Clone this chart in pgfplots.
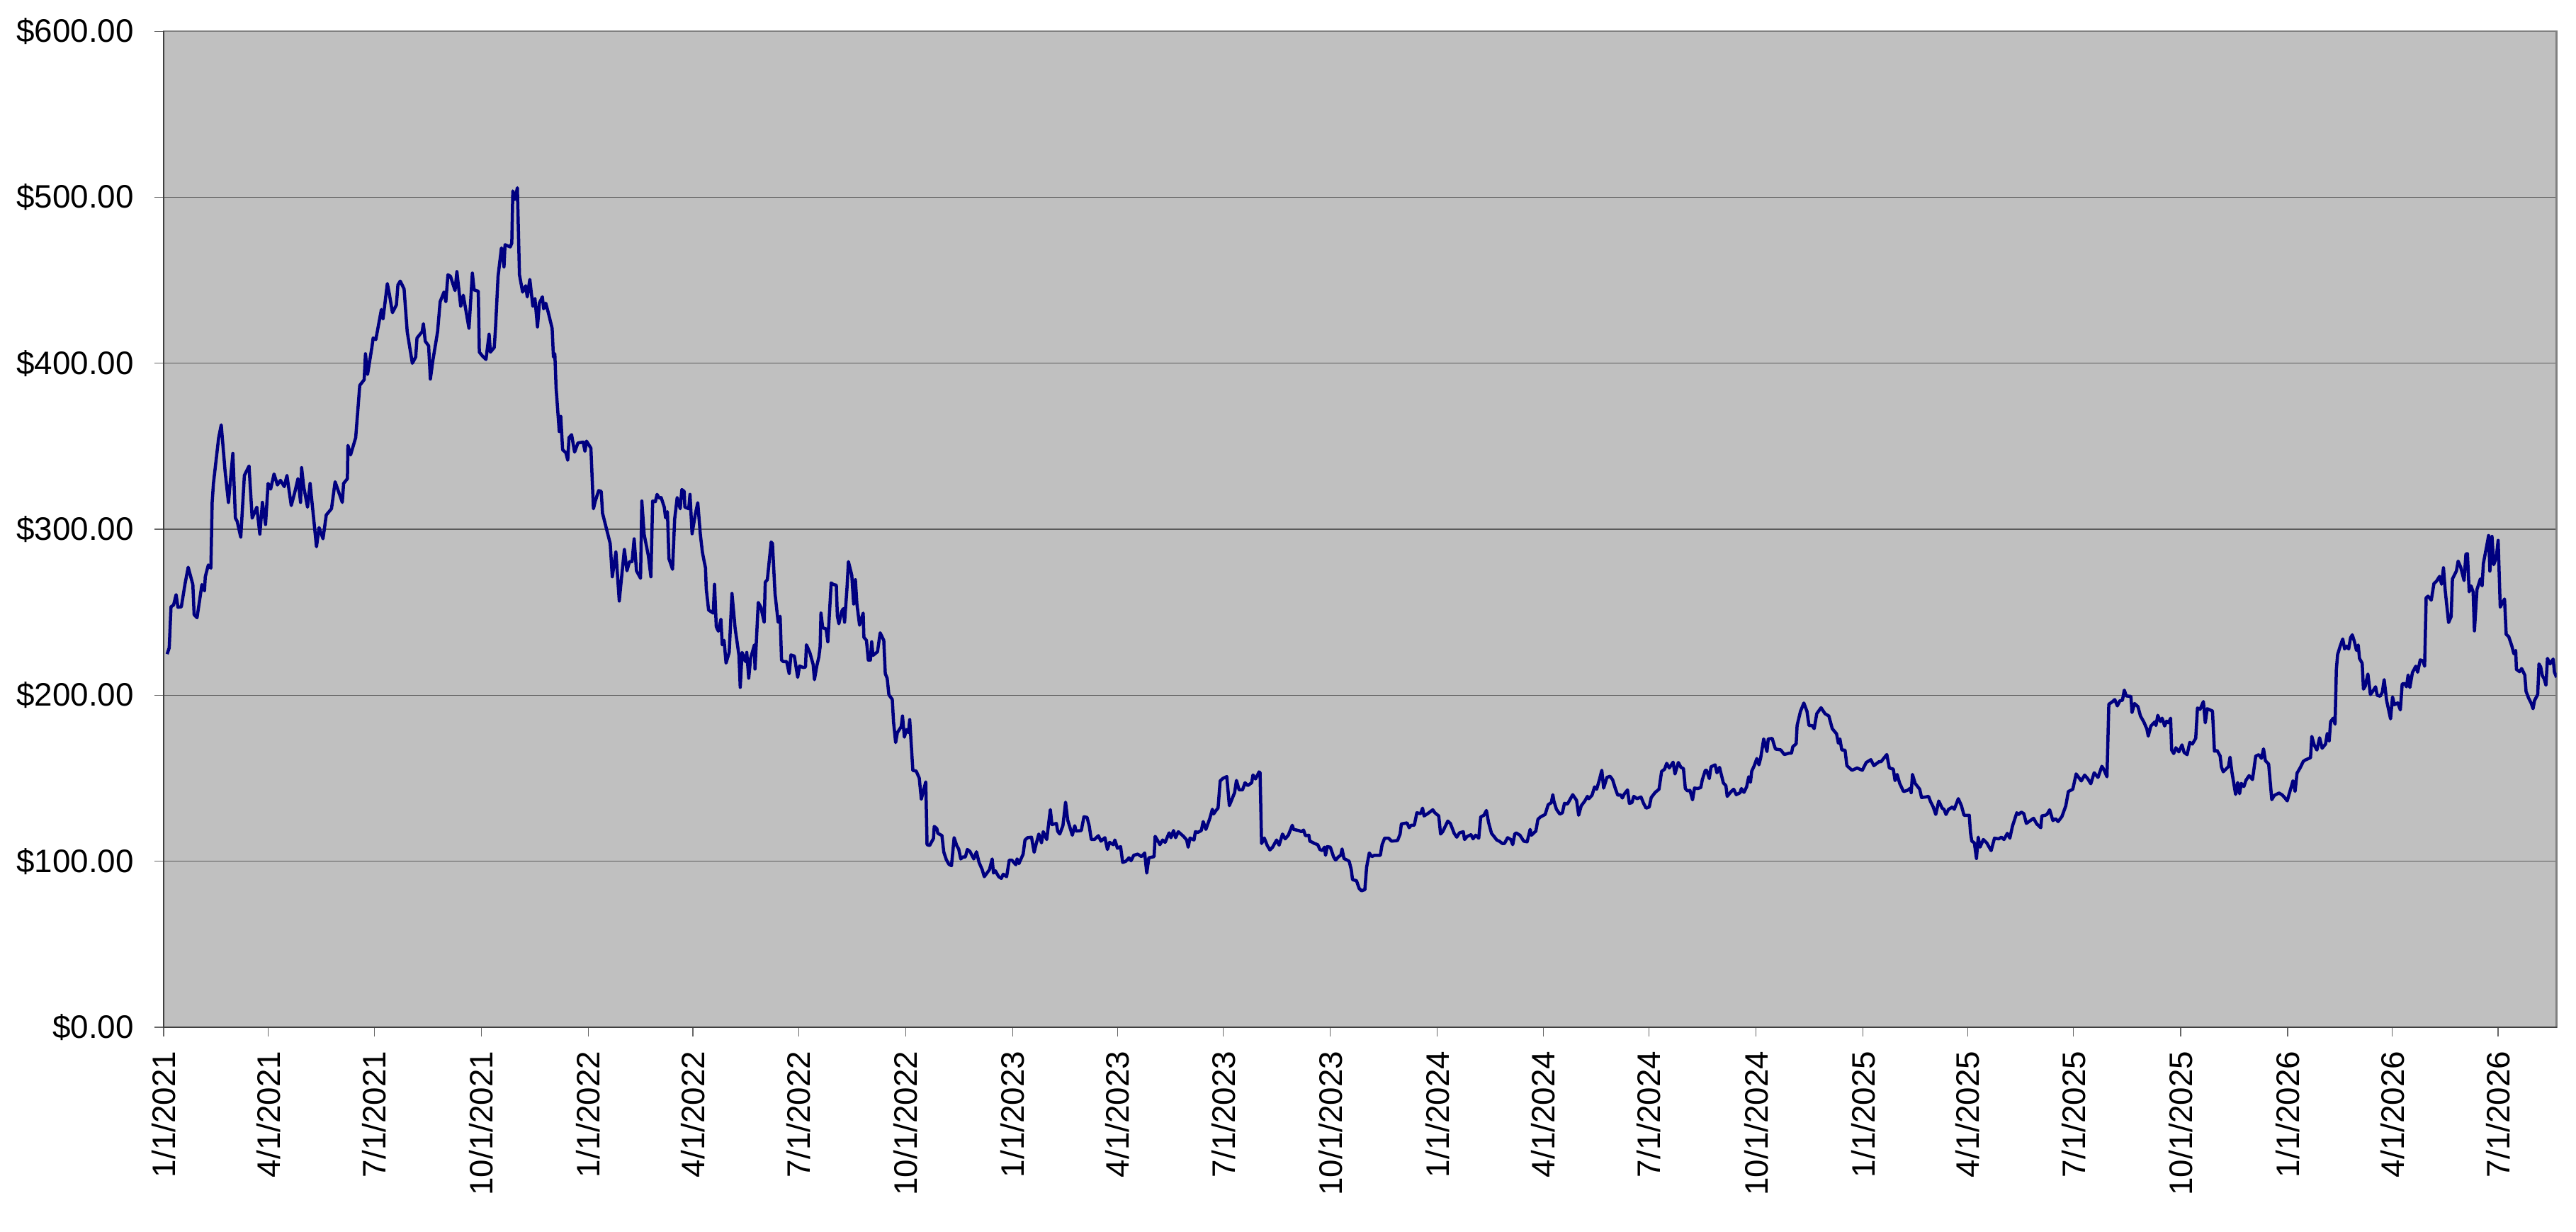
\documentclass[border=0pt]{standalone}
\usepackage{pgfplots}
\pgfplotsset{compat=1.18}
\usepackage{fontspec}
\setmainfont{Liberation Sans}
\definecolor{bgray}{HTML}{C0C0C0}
\definecolor{navyline}{HTML}{000080}
\definecolor{framegray}{HTML}{808080}
\definecolor{gridc}{HTML}{5A5A5A}
\begin{document}
\begin{tikzpicture}
\begin{axis}[
  scale only axis,
  width=810.6pt, height=337.4pt,
  xmin=0, xmax=2057.2, ymin=0, ymax=600,
  axis background/.style={fill=bgray},
  axis line style={draw=framegray, line width=0.6pt},
  ytick={0,100,200,300,400,500,600},
  yticklabels={\$0.00,\$100.00,\$200.00,\$300.00,\$400.00,\$500.00,\$600.00},
  xtick={0,90,181,273,365,455,546,638,730,820,911,1003,1095,1186,1277,1369,1461,1551,1642,1734,1826,1916,2007},
  xticklabels={1/1/2021,4/1/2021,7/1/2021,10/1/2021,1/1/2022,4/1/2022,7/1/2022,10/1/2022,1/1/2023,4/1/2023,7/1/2023,10/1/2023,1/1/2024,4/1/2024,7/1/2024,10/1/2024,1/1/2025,4/1/2025,7/1/2025,10/1/2025,1/1/2026,4/1/2026,7/1/2026},
  xtick pos=bottom, ytick pos=left,
  tick align=outside, major tick length=3.2pt,
  tick style={black!60, line width=0.3pt},
  xticklabel style={rotate=90, anchor=east, inner sep=0pt, font=\fontsize{11}{13}\selectfont},
  yticklabel style={anchor=east, inner sep=0pt, font=\fontsize{11}{13}\selectfont},
  xticklabel shift=4.7pt,
  yticklabel shift=6.7pt,
  ymajorgrids,
  grid style={gridc, line width=0.32pt},
  clip=true,
  after end axis/.code={
    \draw[black!75, line width=0.5pt] (rel axis cs:0,1) -- (rel axis cs:0,0) -- (rel axis cs:1,0);
    \coordinate (O) at (rel axis cs:0,0);
  },
]
\addplot[navyline, line width=1.08pt, line join=round] coordinates {
(3.0,224.8)(4.8,228.6)(6.3,253.3)(8.5,254.3)(10.7,260.6)(12.3,253)(15.2,253.3)(18.5,267.6)(21.1,277.1)(25.1,266.7)(26.2,248.6)(28.7,246.7)(32.9,266.7)(35.1,262.9)(35.8,271.4)(38.4,278.5)(40.6,276.6)(41.7,316.2)(42.8,327.6)(47.3,355.2)(49.5,362.9)(52.8,335.2)(55.7,316.2)(59.5,345.7)(61.7,306.7)(63.2,304.8)(66.3,295.2)(69.4,332.4)(73.4,338.1)(76.1,306.7)(80.1,313.3)(82.7,297.1)(84.9,316.2)(87.6,302.9)(89.8,327.6)(92.0,324.2)(94.9,333.3)(97.8,326.7)(100.4,329.5)(103.7,325.7)(106.0,332.4)(109.7,314.3)(112.6,321.9)(115.5,330.5)(117.7,316.2)(118.6,337.1)(120.4,325.7)(123.7,313.3)(125.9,327.6)(129.2,304.8)(131.4,289.5)(133.6,301)(137.0,294.3)(139.8,308.6)(144.3,312.4)(147.4,328.6)(153.6,316.2)(154.7,327.6)(158.0,330.5)(158.4,350.5)(160.7,344.8)(165.1,355.2)(168.6,386.7)(172.4,390.1)(173.5,405.7)(175.3,393.3)(179.0,409.5)(180.1,415.2)(182.4,414.3)(187.2,432.4)(188.6,426.7)(192.3,448)(194.1,441.5)(196.7,430.5)(200.1,435.2)(201.4,447.2)(203.4,449.5)(206.7,444.8)(209.4,419)(213.8,400)(216.7,403.8)(217.8,415.2)(222.2,419)(223.3,423.8)(224.9,413.3)(227.8,410.5)(229.3,390.5)(231.5,401.9)(235.5,419)(237.7,437.1)(241.0,442.9)(242.6,437.1)(244.4,453.3)(246.6,452.4)(250.5,443.8)(252.1,455.2)(255.4,434.3)(257.6,441)(262.5,421)(265.4,454.3)(266.9,444.2)(270.5,443.4)(271.4,406.7)(274.3,404.2)(277.1,402.3)(279.8,417.5)(280.9,406.7)(284.2,409.5)(285.3,421)(287.5,452.4)(290.4,469.5)(292.6,458.1)(293.5,471.4)(298.0,470.1)(299.3,472.4)(300.2,503.8)(302.0,498.7)(304.1,505.7)(305.9,453.3)(308.6,442.9)(311.2,446.7)(312.6,440)(314.8,450.5)(317.4,434.3)(319.2,439)(321.4,421.9)(323.0,436.2)(325.6,440)(326.7,432.8)(328.5,436.2)(330.7,430.5)(334.0,421)(335.1,403.8)(336.3,405.7)(337.4,385.1)
(340.1,358.9)(341.4,368)(343,347.9)(345.8,346.1)(347.4,341.6)(348.5,355.2)(350.7,357)(353.3,346.5)(356.2,352)(360.7,352.5)(362.2,347)(363.5,353.1)(367.3,348.9)(369.5,312.4)(371.1,317)(374,323.3)(376.2,322.8)(377.3,309.7)(383.9,291.4)(385.7,271.4)(388.8,286.3)(391.7,256.8)(393.2,267.7)(396.1,287.8)(398.3,275)(400.5,280.5)(402.7,280.5)(404.5,294.2)(406.5,275)(410,270.5)(411.1,317)(413.1,296.9)(416.7,284.1)(418.9,271.4)(420.4,317)(422.7,316.6)(424.2,321)(426,318.8)(427.7,319.1)(430.4,313.3)(431.5,306.9)(433.1,310.6)(434.4,282.3)(437.5,275.9)(439.3,306)(441.5,319.1)(444.1,312.4)(445.5,323.9)(447.5,322.8)(448.1,313.3)(451.4,312.4)(452.5,321)(454.3,297.3)(457,308.8)(459.2,316)(461.4,296.9)(463.2,286)(465.8,276.8)(466.5,264.1)(468.5,251.3)(472.5,249.5)(473.6,266.8)(475.1,241.3)(476.9,238.6)(479.1,245.8)(480.2,230.4)(481.8,233.1)(483.5,219.4)(486.2,225.8)(488.6,261.3)(491.3,240.4)(494.6,224)(495.7,204.8)(497.3,225.8)(500.2,220.3)(501.3,225.8)(503,210.3)(504.6,222.2)(507.9,230.4)(508.4,215.8)(511.2,255.9)(513.4,253.1)(516.3,244)(517.2,268.1)(519,269.6)(522.3,292.3)(523.4,291.4)(525.6,261.3)(528.3,244)(530,247.6)(531.2,221.2)(532.7,220.3)(535.6,220.3)(537.8,213)(539.3,224.3)(542.2,223.6)(545.1,210.8)(546.7,217.6)(550,216.7)(551.8,217)(552.6,230.4)(555.5,225.8)(558.4,218.5)(559.5,209.4)(561.5,217.6)(563.3,223.1)(564.4,229.4)(565.1,249.5)(566.6,240.7)(569.5,240)(571,232.2)(573.9,267.7)(575.5,266.8)(578.3,266.3)(579.2,247.7)(580.5,243.1)(582.8,250.4)(584.3,252.2)(585.4,244)(587.6,265.9)(588.7,280.5)(591.6,272.3)(593.2,255)(594.7,269.6)(596.0,255)(598.3,242.2)(601.4,249.5)(602.0,234.9)(604.2,233.1)(605.8,221.2)(607.6,221.2)(608.7,232.2)(609.8,224)(613.7,226.2)(616.0,237.6)(619.1,233.1)(620.4,213)(622.0,210.3)(623.5,200.3)(626.4,197.5)(627.5,183.9)(629.3,171.5)(630.8,177.5)(634.1,181.1)(635.2,187.5)(636.8,174.8)(638.6,179.3)(640.3,177.5)(641.4,185.3)(644.1,154.7)(647.0,154.3)(649.6,150.1)(651.4,137.4)(653.0,141.9)(655.2,147.8)(656.3,110)(658.5,109.5)(661.8,113.7)(662.5,121)(664.7,119.7)(665.6,116.8)(669.1,115.5)(670.7,105.5)(672.9,100.9)(675.1,98.2)(677.3,97.3)
(679.6,114.2)(681.9,109.3)(683.5,107.4)(685.3,101.4)(687.1,102.6)(689.3,102.6)(690.9,107.1)(693.1,106)(696.5,101.4)(698.8,105.7)(701,99.3)(703.7,95)(705.5,90.7)(707.8,92.9)(710.0,95)(712.3,101.4)(713.4,92.9)(715,94.3)(717.9,90.7)(720.2,89.7)(721.8,92.2)(724.7,90.7)(727,100.7)(729.2,100.7)(732.6,97.9)(733.7,101.4)(735.3,98.6)(738.9,104.3)(740.5,112.8)(742.7,114.2)(746.1,114.5)(748.4,105.4)(750.2,110.7)(752.4,116.4)(754.7,111.1)(756.2,117.8)(759.2,113.1)(762.3,131.1)(763.7,122.1)(767.5,122.8)(768.6,118.1)(770.4,116.4)(773.1,121.4)(775.4,135.6)(777.2,124.9)(781.2,115.7)(783.3,121.4)(784.4,118.2)(788.9,118.5)(791.2,126.8)(793.9,126.4)(795.7,121.4)(797.5,113.1)(800.2,113.1)(803.6,115.4)(805.8,112.1)(809.2,114.2)(811.4,107.1)(813.2,111.4)(816.4,110)(817.8,112.8)(820,107.8)(822.7,108.8)(824.5,99.3)(827.2,100)(829.9,102.1)(831.7,100.3)(834.0,103.6)(837.4,104.3)(840.7,102.8)(843.4,105)(845.2,92.9)(847,102.1)(851.5,102.8)(852.4,115)(854.3,112.8)(856.5,110)(858.8,112.8)(861,111.4)(864.4,117.1)(866,114.2)(868.2,118.5)(870,114.2)(872.3,117.8)(876.8,115)(879.5,112.8)(880.8,108.5)(882.4,114)(885.8,112.8)(887,117.8)(889.2,117.4)(892.1,118.5)(893.7,123.9)(896,119.2)(899.3,125.6)(901.6,131.3)(902.7,128.5)(904.3,130.2)(906.5,132.1)(908.3,148.4)(910.6,149.9)(914,151)(916.2,133.5)(920.7,141.3)(922.3,148.7)(924.6,143)(927.5,143)(929.7,147.3)(932,145.6)(935.4,147.3)(936.5,152)(938.7,149.6)(941.7,153.8)(942.6,153.4)(943.9,110.7)(946.2,114)(948.9,109.3)(951.1,106.8)(953.4,108.5)(956.8,112.8)(959,109.7)(961.9,116.4)(964.2,113.5)(966.9,115.7)(970.3,121.7)(971.4,119.2)(975.9,118.5)(978.2,117.8)(980,118.8)(981.6,115.4)(984.5,115.7)(985.4,112.1)(987.7,111.4)(989.4,110.7)(992.2,110)(994,107.1)(996.2,106.4)(998,108.5)(998.9,103.6)(1000.3,108.8)(1003,108.5)(1005.7,102.8)(1007.5,100.7)(1010.2,102.8)(1012,103.6)(1013.1,107.4)(1014.7,101.7)(1019.2,100)(1021,95)(1022.1,88.9)(1025.5,88.3)(1027.8,83.6)
(1029.8,82.2)(1032.7,82.9)(1034.2,96.4)(1036.5,105)(1038.7,102.8)(1040.9,103.6)(1046,103.6)(1047.5,110)(1049.7,113.9)(1053.1,113.9)(1055.7,112.1)(1060.8,112.5)(1063,116.4)(1064.1,122.5)(1069,123.1)(1070.8,120.2)(1072.5,121.7)(1075.2,121.7)(1077.4,129.2)(1080.7,128.7)(1082.3,132)(1083.6,127.3)(1086.7,128.7)(1091.1,131)(1092.9,129.2)(1096.2,127.3)(1097.8,116.4)(1099.6,117.8)(1104,124.2)(1106.2,122.8)(1109.5,116.8)(1111.7,114.5)(1114,117.1)(1117.3,117.8)(1118.4,113.1)(1120.6,114.9)(1123.9,116)(1125.7,113.5)(1127.9,115.7)(1130.6,113.9)(1132.3,126.7)(1135,127.7)(1137.2,130.6)(1139,123.5)(1141.6,116.8)(1143.8,114.9)(1146.1,112.8)(1148.3,112.1)(1150.9,110.7)(1152.7,110.7)(1155.4,114.2)(1158.2,113.1)(1159.8,110)(1161.6,116.4)(1162.7,117.1)(1166,115.7)(1169.3,112.1)(1172.2,111.7)(1174.8,119.2)(1175.9,115.7)(1179.7,118.2)(1181.5,125.3)(1183.7,126.7)(1187.7,128.2)(1190.3,134.1)(1193,135.3)(1194.3,140.1)(1195.2,136.3)(1197.4,131.3)(1200.3,128.4)(1202.5,129.2)(1204.3,134.9)(1206.9,134.5)(1211.4,140.1)(1214.7,136.7)(1216.5,127.7)(1218.7,133.4)(1221.8,136.3)(1224,139.1)(1225.3,137.7)(1228,139.8)(1230.2,144.8)(1232,143.4)(1234.6,149.8)(1236.4,154.8)(1238,144.1)(1240.8,150.5)(1243.5,151.2)(1245.7,149.1)(1247.9,144.1)(1250.1,139.8)(1252.3,140.1)(1254.1,138.1)(1255.7,140.5)(1258.5,143)(1260.1,134.9)(1262.3,135.3)(1263.9,139.1)(1266.7,137.7)(1270.1,138.7)(1272.3,134.9)(1274.5,132)(1277.2,132.7)(1278.9,138.4)(1282.3,141.5)(1285.6,143.4)(1287.8,154.1)(1290.4,155.5)(1292.2,159)(1294.4,156.2)(1297.7,159.7)(1299.3,152.6)(1302.2,159.5)(1304.4,156.6)(1306.6,155.8)(1308.2,143.8)(1310,142.4)(1312.2,142.7)(1314.4,137)(1316.1,144.1)(1318.8,143.8)(1321.5,144.4)(1322.8,149.1)(1325.4,154.8)(1326.5,154.8)(1328.8,149.8)(1330.3,156.9)(1333.8,158.1)(1335.4,153.3)(1337.6,156.6)(1340.9,147.2)(1343.1,145.5)(1344.2,139.1)(1347.6,142)(1349.8,143.4)(1352,140.1)(1355.3,141.3)(1356.4,143.8)(1358.6,141.5)(1360.9,144.8)(1362.7,150.9)(1364.2,147.6)(1365.3,154.3)(1367.5,157.6)(1369.7,161.9)(1371.5,158.1)(1373.0,162.3)
(1375.6,173.7)(1378.4,166.1)(1379.5,173.7)(1382.9,174)(1384.4,170.4)(1385.7,167.6)(1390.2,167.1)(1393.3,164.3)(1397.3,165.1)(1399.5,165.1)(1400.6,169)(1403.5,170.8)(1404.3,181.8)(1407.2,190.3)(1410.1,195.3)(1412.8,190.3)(1414.5,181.8)(1417.2,181.8)(1419,179.9)(1421.2,188.9)(1424.9,192.5)(1428.3,188.9)(1431.6,187.5)(1434.5,179.9)(1438.2,176.8)(1439.8,171.1)(1441.1,173.7)(1442.7,167.1)(1445.5,166.9)(1447.1,157.6)(1451.5,154.8)(1455.9,156.2)(1460.4,154.8)(1463.7,159.5)(1467.7,161.2)(1470.3,157.6)(1474.8,160)(1476.5,160)(1481.4,164.3)(1483.6,156.2)(1487,155.5)(1488.5,148.6)(1490.3,152.3)(1492.5,146.9)(1495.8,142)(1499.1,142.7)(1501.8,144.1)(1502.4,141.3)(1503.5,152.3)(1505.8,146.9)(1509.7,143.4)(1511.3,138.4)(1514.6,138.7)(1517.3,139.1)(1519.1,135.8)(1521.3,132.7)(1523.5,128.2)(1526.1,136.3)(1529,132)(1530.6,131.3)(1532.3,128.2)(1534.5,131.3)(1537.9,132.7)(1539.4,131.3)(1542.9,137.7)(1545.6,133.4)(1547.8,127.7)(1552.3,127.7)(1553.4,117.1)(1554.5,112.1)(1556.7,111.1)(1558.5,101.7)(1560.0,114.5)(1561.6,108.5)(1564.4,113.1)(1567.3,111.1)(1571.1,106.4)(1574,113.9)(1577.7,113.5)(1579.9,114.5)(1582.2,113.1)(1585,116.8)(1587.2,113.9)(1589.5,121.3)(1593.2,129.2)(1594.8,128.2)(1597.0,129.6)(1599.2,128.7)(1601.4,122.8)(1607.6,125.9)(1610.3,122.5)(1613.8,120.2)(1614.7,127.3)(1617.6,127.7)(1619.1,128.2)(1621.4,131)(1624.2,124.5)(1626.5,125.6)(1628.7,123.9)(1632,127)(1635.3,133.4)(1637.5,142)(1641.3,143.4)(1644.2,152.6)(1648.6,148.4)(1651.5,151.9)(1654.1,149.8)(1656.8,146.7)(1659.7,153.3)(1663,150.5)(1666.3,157.2)(1667.9,155.5)(1670.7,150.9)(1672.3,194.6)(1675.2,196)(1677.4,197.4)(1679.6,193.6)(1681.8,196.7)(1684.0,197)(1685.6,203.1)(1687.3,199.6)(1691.3,199.3)(1692.2,189.6)(1694.4,195)(1697.3,193.2)(1699.5,187.5)(1702.4,183.9)(1705.0,179.7)(1706.2,175.4)(1708.4,181.4)(1711.7,183.9)(1712.8,181.8)(1714.4,187.9)(1716.6,184.2)
(1718.1,186.2)(1720.3,181.5)(1721.9,184.4)(1723.7,183.4)(1725.4,186.2)(1726.3,167)(1728.1,164.9)(1729.9,168.4)(1732.5,165.9)(1735.2,170.1)(1737,165.6)(1739.6,164.2)(1741.9,171.6)(1744.1,170.6)(1747,174.1)(1748.5,192.3)(1750.7,191.5)(1753.6,196.2)(1755.2,183.4)(1756.9,191.9)(1761.4,190.5)(1763.1,166.3)(1765.4,166.7)(1768,163.4)(1769.1,156.8)(1770.7,153.9)(1775.1,157)(1776.5,162.7)(1778,154.2)(1781.3,140.3)(1783.1,147.4)(1784.7,140.7)(1786.2,146.9)(1788.4,145)(1790.2,148.8)(1792.9,151.6)(1795.8,149.2)(1798.6,163.4)(1801.3,164.2)(1803.5,162)(1805.3,167.7)(1806.9,160.6)(1809.7,158.5)(1812.4,137.1)(1814.6,139.7)(1818.6,141.1)(1821.3,140)(1823.5,138.3)(1825.7,136.4)(1828,142.1)(1830.6,148.5)(1832.4,142.1)(1834.1,153.1)(1836.8,156.3)(1839.5,160.2)(1841.2,161)(1845.7,162.4)(1846.8,175.2)(1849,169.8)(1851.2,167)(1853.5,174.4)(1855.7,168.1)(1858.6,170.6)(1860.1,177)(1861.7,172.4)(1863,184.1)(1865.2,186.2)(1866.8,182.6)(1867.9,215.4)(1869,224.6)(1871.2,229.6)(1873.4,233.9)(1875,227.9)(1876.8,229.6)(1878.5,227.9)(1880.1,234.6)(1881.6,236.4)(1883.4,232.4)(1885.2,227)(1886.7,230.3)(1887.8,222.2)(1890.1,219.3)(1891.2,203.7)(1892.7,205.4)(1895,212.8)(1897.2,200.4)(1899.4,202.6)(1901.6,205.1)(1903,200)(1905.6,199.4)(1907.4,201.8)(1909,209.4)(1911.1,196.9)(1914.5,185.8)(1916.2,199)(1917.8,194.3)(1920.7,195.4)(1922.9,191.2)(1924.5,206.8)(1926.7,207.1)(1928.2,205.1)(1929.6,212.2)(1931.1,204.7)(1933.3,213.7)(1936.2,217.5)(1937.8,213.9)(1940,221.3)(1942.2,220.8)(1943.8,217.5)(1945.1,258.7)(1946.7,259.7)(1949.5,257.3)(1951.8,267.3)(1954,268.7)(1956.6,271.6)(1958.4,266.9)(1960,276.8)(1961.5,263)(1964.4,243.8)(1966.6,247.4)(1967.7,270.1)(1971.1,274.8)(1972.6,280.8)(1974.8,277.2)(1977.7,269.1)(1979.3,285.1)(1980.6,285.3)(1982.1,262.3)(1983.7,265.9)(1985.5,262.3)(1986.6,238.8)(1988.8,263.7)(1991.7,270.1)(1993.2,265.9)(1994.3,279.4)(1997,289.3)(1998.8,296.2)(1999.9,274.8)(2001.7,295.7)(2003.2,278.7)(2005.4,282.9)(2007,293.3)(2008.8,253.1)(2010.3,255.2)(2012.5,258)(2013.9,236.7)(2016.1,235.3)(2018.8,229.6)(2020.5,225)(2022.1,227)(2022.7,215.6)(2025.4,214.2)(2027.2,216.1)(2029.9,212.2)(2031,202.3)(2033.2,198.3)(2035.4,195.2)(2037,191.9)(2038.3,196.9)(2041,200.4)(2042.1,218.9)(2043.6,217)(2045,211.8)(2046.5,210)(2048.1,206.1)(2049.4,222.2)(2051.6,218.9)(2054.3,221.8)(2055.4,213.9)(2057.2,210.8)
};
\end{axis}
\path (O) ++(-55.44pt,-69.36pt) rectangle ++(872.64pt,417.36pt);
\end{tikzpicture}
\end{document}
